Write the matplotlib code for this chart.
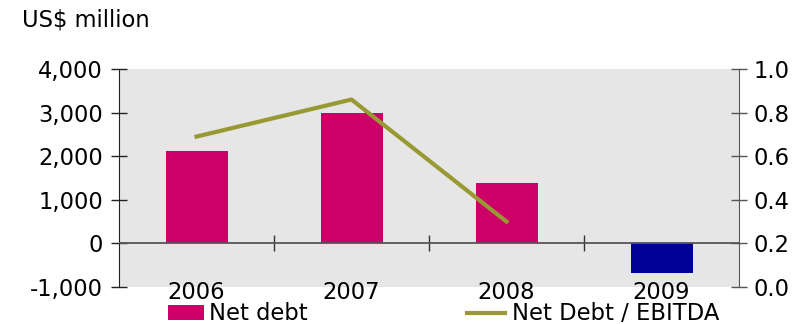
import matplotlib
matplotlib.use("Agg")
import matplotlib.pyplot as plt
import numpy as np
from matplotlib.patches import Patch
from matplotlib.lines import Line2D

years = ["2006", "2007", "2008", "2009"]
net_debt = [2120, 2980, 1385, -690]
ratio = [0.69, 0.86, 0.30, np.nan]
bar_colors = ["#CC0066", "#CC0066", "#CC0066", "#000099"]
left_ticks = [-1000, 0, 1000, 2000, 3000, 4000]
right_ticks = [0.0, 0.2, 0.4, 0.6, 0.8, 1.0]

plt.rcParams['font.family'] = ['DejaVu Sans']
FS = 16.3

fig = plt.figure(figsize=(8.1, 3.24), dpi=100)
ax = fig.add_axes([119/810, 1-287/324, 620/810, 218/324])
ax.set_facecolor("#E6E6E6")
x = np.arange(len(years))
ax.bar(x, net_debt, width=0.4, color=bar_colors, zorder=2)
ax.set_xlim(-0.5, 3.5)
ax.set_ylim(-1000, 4000)
ax.set_yticks(left_ticks)
ax.set_yticklabels([f"{v:,}" for v in left_ticks], fontsize=FS)
ax.tick_params(axis='y', direction='inout', length=11, width=1, colors='#222222', labelcolor='black', pad=6)
ax.set_xticks(x)
ax.set_xticklabels(years, fontsize=FS)
ax.tick_params(axis='x', length=0, pad=-4)
for s in ['top', 'bottom', 'right']:
    ax.spines[s].set_visible(False)
ax.spines['left'].set_color('#222222')
ax.axhline(0, color='#555555', lw=1.3, zorder=3)

sec = ax.secondary_xaxis(0.2)
sec.set_xticks([0.5, 1.5, 2.5])
sec.set_xticklabels([])
sec.tick_params(axis='x', direction='inout', length=11, width=1, colors='#333333')
sec.spines['bottom'].set_visible(False)

ax2 = ax.twinx()
ax2.plot(x, ratio, color="#999933", lw=3.0, zorder=4)
ax2.set_ylim(0, 1.0)
ax2.set_yticks(right_ticks)
ax2.set_yticklabels([f"{v:.1f}" for v in right_ticks], fontsize=FS)
ax2.tick_params(axis='y', direction='inout', length=11, width=1, colors='#555555', labelcolor='black', pad=5)
for s in ['top', 'bottom', 'left']:
    ax2.spines[s].set_visible(False)
ax2.spines['right'].set_color('#555555')

fig.text(22/810, 1-20/324, "US$ million", fontsize=FS, va='center', ha='left')

h1 = Patch(facecolor="#CC0066", edgecolor='none')
h2 = Line2D([0], [0], color="#999933", lw=3.0)
fig.legend([h1], ["Net debt"], loc='center left', bbox_to_anchor=(168/810, 1-314/324),
           frameon=False, fontsize=FS, handlelength=1.6, handleheight=0.68, handletextpad=0.2, borderpad=0, borderaxespad=0)
fig.legend([h2], ["Net Debt / EBITDA"], loc='center left', bbox_to_anchor=(467/810, 1-314/324),
           frameon=False, fontsize=FS, handlelength=1.7, handletextpad=0.3, borderpad=0, borderaxespad=0)

fig.savefig("out.png", dpi=100)
